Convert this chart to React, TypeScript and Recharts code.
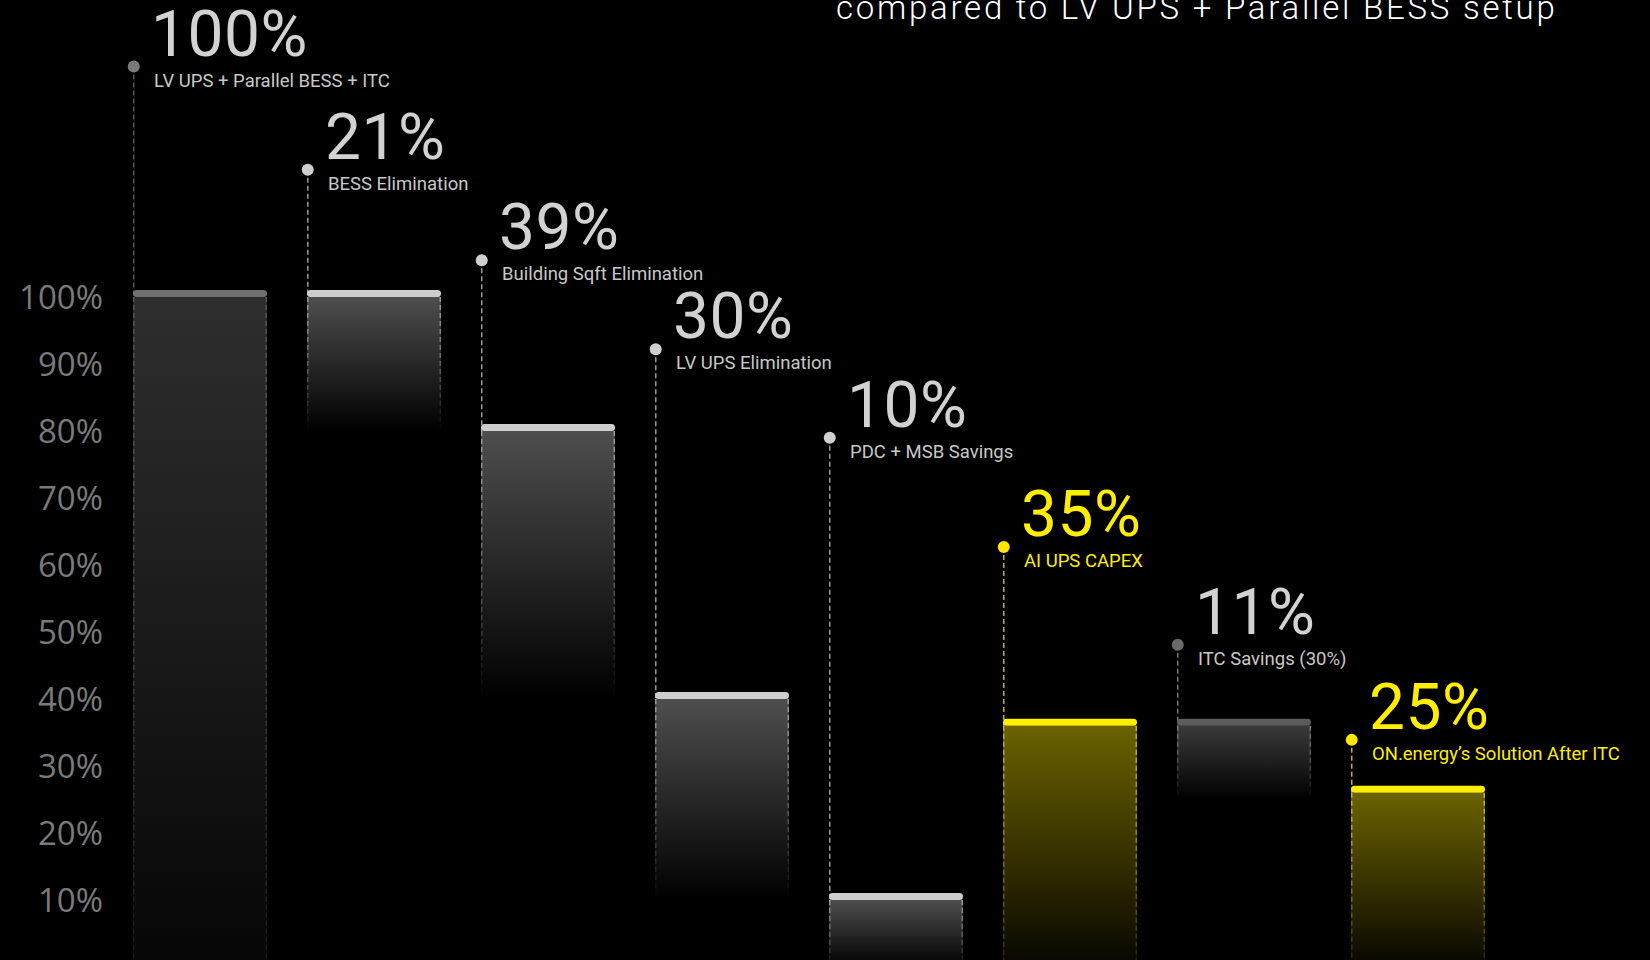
import React from 'react';
import { BarChart, Bar, XAxis, YAxis } from 'recharts';

// ---------- data ----------
const CATEGORIES = [
  'LV UPS + Parallel BESS + ITC',
  'BESS Elimination',
  'Building Sqft Elimination',
  'LV UPS Elimination',
  'PDC + MSB Savings',
  'AI UPS CAPEX',
  'ITC Savings (30%)',
  'ON.energy\u2019s Solution After ITC',
];
const HEADLINES = ['100%', '21%', '39%', '30%', '10%', '35%', '11%', '25%'];
const RANGE_LOW = [0, 80, 40, 10, 0, 0, 25, 0];
const RANGE_HIGH = [100, 100, 80, 40, 10, 36, 36, 26];
const KINDS = ['base', 'step', 'step', 'step', 'step', 'accent', 'muted', 'accent'];
const Y_TICKS = [10, 20, 30, 40, 50, 60, 70, 80, 90, 100];
const TITLE = 'compared to LV UPS + Parallel BESS setup';

// ---------- layout (callout anchor heights, in axis units) ----------
const CALLOUT_LEVELS = [134.4, 119.0, 105.5, 92.2, 79.0, 62.7, 48.1, 33.9];

const data = CATEGORIES.map((name, i) => ({
  name,
  headline: HEADLINES[i],
  range: [RANGE_LOW[i], RANGE_HIGH[i]],
  kind: KINDS[i],
  callout: CALLOUT_LEVELS[i],
}));

type Style = {
  fillTop: string;
  fillBottom: string;
  cap: string;
  dot: string;
  edge: string;
  edgeEnd: number;
  headline: string;
  sub: string;
};

const STYLES: Record<string, Style> = {
  base: { fillTop: '#2e2e2e', fillBottom: '#060606', cap: '#707070', dot: '#7a7a7a', edge: '#555555', edgeEnd: 0.2, headline: '#d2d2d2', sub: '#c8c8c8' },
  step: { fillTop: '#4e4e4e', fillBottom: '#000000', cap: '#cdcdcd', dot: '#cfcfcf', edge: '#9a9a9a', edgeEnd: 0, headline: '#d2d2d2', sub: '#c8c8c8' },
  accent: { fillTop: '#6b6200', fillBottom: '#060500', cap: '#ffee00', dot: '#ffe800', edge: '#c8b600', edgeEnd: 0.15, headline: '#ffee00', sub: '#ffee00' },
  muted: { fillTop: '#3a3a3a', fillBottom: '#000000', cap: '#5c5c5c', dot: '#6b6b6b', edge: '#777777', edgeEnd: 0, headline: '#d2d2d2', sub: '#c8c8c8' },
};

const WaterfallShape = (props: any) => {
  const { x, y, width, height, index, payload } = props;
  const st = STYLES[payload.kind];
  const [low, high] = payload.range;
  const ppu = height / (high - low);
  const dotY = y - (payload.callout - high) * ppu;
  const bottom = y + height;
  const fid = `wf-fill-${index}`;
  const sid = `wf-edge-${index}`;
  const lx = x + 0.75;
  const rx = x + width - 0.75;
  return (
    <g>
      <defs>
        <linearGradient id={fid} gradientUnits="userSpaceOnUse" x1={0} y1={y} x2={0} y2={bottom}>
          <stop offset="0" stopColor={st.fillTop} />
          <stop offset="1" stopColor={st.fillBottom} />
        </linearGradient>
        <linearGradient id={sid} gradientUnits="userSpaceOnUse" x1={0} y1={y} x2={0} y2={bottom}>
          <stop offset="0" stopColor={st.edge} stopOpacity={1} />
          <stop offset="1" stopColor={st.edge} stopOpacity={st.edgeEnd} />
        </linearGradient>
      </defs>
      <rect x={x} y={y} width={width} height={height} fill={`url(#${fid})`} />
      <line x1={lx} x2={lx} y1={dotY} y2={y} stroke={st.edge} strokeWidth={1.5} strokeDasharray="5 3" />
      <line x1={lx} x2={lx} y1={y} y2={bottom} stroke={`url(#${sid})`} strokeWidth={1.5} strokeDasharray="5 3" />
      <line x1={rx} x2={rx} y1={y} y2={bottom} stroke={`url(#${sid})`} strokeWidth={1.5} strokeDasharray="5 3" />
      <rect x={x} y={y - 7} width={width} height={7} rx={3.5} fill={st.cap} />
      <circle cx={lx} cy={dotY} r={6} fill={st.dot} />
      <text x={x + 18} y={dotY - 11} fontSize={64} fill={st.headline} fontFamily="Roboto" letterSpacing={0.5}>
        {payload.headline}
      </text>
      <text x={x + 21} y={dotY + 20} fontSize={18.5} fill={st.sub} fontFamily="Roboto">
        {payload.name}
      </text>
    </g>
  );
};

const YTick = (props: any) => {
  const { x, y, payload } = props;
  return (
    <text x={x} y={y} dy="0.36em" textAnchor="end" fill="#7a7a7a" fontSize={33} fontFamily="Open Sans">
      {`${payload.value}%`}
    </text>
  );
};

export default function App() {
  return (
    <div style={{ position: 'absolute', left: 0, top: 0, width: 1650, height: 960, overflow: 'hidden', background: '#000' }}>
      <style>{'html,body{margin:0;padding:0;background:#000;overflow:hidden;}'}</style>
      <BarChart
        width={1650}
        height={1000}
        data={data}
        margin={{ top: 29, right: 145, bottom: 33, left: 0 }}
        barSize={134}
      >
        <XAxis dataKey="name" hide />
        <YAxis
          width={113}
          domain={[0, 140]}
          ticks={Y_TICKS}
          axisLine={false}
          tickLine={false}
          tickSize={0}
          tickMargin={10}
          tick={<YTick />}
          interval={0}
        />
        <Bar dataKey="range" shape={<WaterfallShape />} isAnimationActive={false} />
      </BarChart>
      <svg width={1650} height={960} style={{ position: 'absolute', left: 0, top: 0, pointerEvents: 'none' }}>
        <text x={836} y={19} fontSize={33} fontWeight={300} fill="#ffffff" fontFamily="Roboto" letterSpacing={2.75}>
          {TITLE}
        </text>
      </svg>
    </div>
  );
}
